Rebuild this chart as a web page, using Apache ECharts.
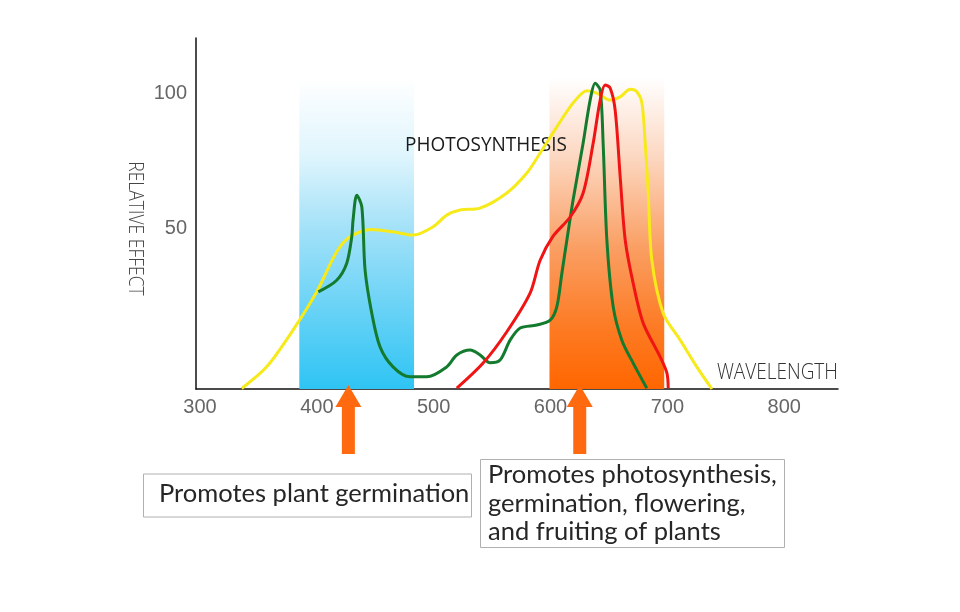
<!DOCTYPE html>
<html>
<head>
<meta charset="utf-8">
<script src="https://cdn.jsdelivr.net/npm/echarts@6/dist/echarts.min.js"></script>
<style>html,body{margin:0;padding:0;background:#fff}#c{width:960px;height:612px}</style>
</head>
<body>
<div id="c"></div>
<script>
// ---- data ----
const wavelengthTicks = [300, 400, 500, 600, 700, 800];
const effectTicks = [50, 100];

const yellowNm  = [335.7,357.1,379.6,399.9,417.0,428.4,447.0,465.2,482.4,499.5,511.2,522.6,539.7,562.6,579.7,591.1,605.4,619.3,631.1,639.6,651.0,659.6,668.2,673.9,678.2,681.0,683.6,686.7,696.4,711.0,725.3,738.1];
const yellowVal = [-9.4,-1.4,12.2,26.4,41.2,46.8,49.5,48.6,47.4,50.5,54.8,56.7,57.4,63.0,70.4,77.8,87.5,96.3,100.9,100.0,97.4,98.6,101.4,100.5,96.3,81.5,63.0,38.1,18.5,8.5,-1.5,-9.6];

const greenNm  = [401.3,417.0,425.6,429.9,431.0,434.2,438.5,441.3,447.0,454.1,465.2,479.8,494.1,511.2,519.8,531.2,539.7,548.3,556.8,565.4,574.0,588.3,599.7,605.4,609.7,614.0,619.3,627.9,633.9,638.2,642.5,645.0,648.2,653.6,661.0,670.7,682.4];
const greenVal = [26.4,30.7,37.0,46.8,53.0,62.2,57.9,34.4,18.5,6.0,-1.4,-5.1,-5.1,-1.4,3.0,4.8,3.0,0.1,1.1,8.5,13.0,14.1,15.9,20.9,33.3,45.6,60.4,81.5,97.4,103.6,101.1,81.5,45.6,20.9,8.5,0,-9.3];

const redNm  = [519.8,542.3,562.6,582.5,591.1,602.2,616.8,627.9,636.5,642.5,646.7,651.0,655.3,659.6,663.9,670.7,679.3,693.8,699.6,700.7];
const redVal = [-9.3,0,11.6,25.9,38.1,47.0,54.1,63.0,81.5,97.4,103.0,101.9,93.7,69.0,45.6,29.6,14.8,2.3,-3.7,-9.3];

const blueBandNm = [385.0, 483.2];
const orangeBandNm = [599.1, 697.3];
const bandTop = 105.6;
const arrowNm = [427, 625];

const xMin = 296.6, xMax = 846, yMin = -9.6, yMax = 120.4;

const pairs = (a, b) => a.map((v, i) => [v, b[i]]);

const chart = echarts.init(document.getElementById('c'));
const G = echarts.graphic.LinearGradient;
const axisFont = { color: '#666', fontSize: 20, fontFamily: '"Liberation Sans", sans-serif' };

chart.setOption({
  animation: false,
  grid: { left: 196, right: 122, top: 38, bottom: 223 },
  xAxis: {
    type: 'value', min: xMin, max: xMax,
    axisLine: { show: true, onZero: false, lineStyle: { color: '#111', width: 1.5 } },
    axisTick: { show: false }, splitLine: { show: false },
    axisLabel: Object.assign({ customValues: wavelengthTicks, margin: 8 }, axisFont)
  },
  yAxis: {
    type: 'value', min: yMin, max: yMax,
    axisLine: { show: true, onZero: false, lineStyle: { color: '#111', width: 1.5 } },
    axisTick: { show: false }, splitLine: { show: false },
    axisLabel: Object.assign({ customValues: effectTicks, margin: 9 }, axisFont)
  },
  series: [
    {
      type: 'line', data: [], z: 1, silent: true,
      markArea: {
        silent: true,
        label: { show: false },
        data: [
          [{ xAxis: blueBandNm[0], yAxis: yMin, itemStyle: { color: new G(0, 0, 0, 1, [
              { offset: 0, color: 'rgba(255,255,255,1)' },
              { offset: 0.25, color: '#dff5fd' },
              { offset: 0.5, color: '#9fe0f8' },
              { offset: 1, color: '#2fc4f4' }]) } },
           { xAxis: blueBandNm[1], yAxis: bandTop }],
          [{ xAxis: orangeBandNm[0], yAxis: yMin, itemStyle: { color: new G(0, 0, 0, 1, [
              { offset: 0, color: 'rgba(255,255,255,1)' },
              { offset: 0.25, color: '#fcd8c2' },
              { offset: 0.55, color: '#fa9e62' },
              { offset: 0.8, color: '#fd7b24' },
              { offset: 1, color: '#ff6600' }]) } },
           { xAxis: orangeBandNm[1], yAxis: bandTop }]
        ]
      }
    },
    {
      type: 'line', z: 3, data: pairs(yellowNm, yellowVal), showSymbol: false, smooth: 0.3,
      lineStyle: { color: '#f7ea1a', width: 3 }
    },
    {
      type: 'line', z: 4, data: pairs(greenNm, greenVal), showSymbol: false, smooth: 0.3,
      lineStyle: { color: '#137a2e', width: 3 }
    },
    {
      type: 'line', z: 5, data: pairs(redNm, redVal), showSymbol: false, smooth: 0.3,
      lineStyle: { color: '#f01414', width: 3 }
    },
    {
      type: 'custom', z: 6, clip: false, silent: true,
      data: arrowNm.map(n => [n, yMin]),
      renderItem: function (params, api) {
        const p = api.coord([api.value(0), api.value(1)]);
        const x = p[0], tip = p[1] - 4;
        const hw = 13, sw = 6.5, hh = 22, len = 69;
        return {
          type: 'polygon',
          shape: { points: [
            [x, tip], [x + hw, tip + hh], [x + sw, tip + hh], [x + sw, tip + len],
            [x - sw, tip + len], [x - sw, tip + hh], [x - hw, tip + hh]
          ] },
          style: { fill: '#ff6a10' }
        };
      }
    }
  ],
  graphic: [
    { type: 'text', z: 2, x: 405, y: 145, scaleY: 1.07,
      style: { text: 'PHOTOSYNTHESIS', fill: '#1a1a1a', font: '19px "Open Sans", sans-serif', verticalAlign: 'middle' } },
    { type: 'text', z: 2, x: 838, y: 384, scaleY: 1.15,
      style: { text: 'WAVELENGTH', fill: '#333', font: '300 19px "Open Sans", sans-serif', align: 'right', verticalAlign: 'bottom' } },
    { type: 'text', z: 2, x: 134.7, y: 228.5, rotation: -Math.PI / 2, scaleY: 1.12,
      style: { text: 'RELATIVE EFFECT', fill: '#444', font: '300 17.5px "Open Sans", sans-serif', align: 'center', verticalAlign: 'middle' } },
    { type: 'rect', z: 2, shape: { x: 143.5, y: 474, width: 328, height: 43 }, style: { fill: '#fff', stroke: '#b0b0b0', lineWidth: 1 } },
    { type: 'text', z: 3, x: 159, y: 494, style: { text: 'Promotes plant germination', fill: '#262626', font: '25.5px Lato, sans-serif', verticalAlign: 'middle' } },
    { type: 'rect', z: 2, shape: { x: 480.5, y: 459.5, width: 304, height: 88 }, style: { fill: '#fff', stroke: '#b0b0b0', lineWidth: 1 } },
    { type: 'text', z: 3, x: 488, y: 461, style: { text: 'Promotes photosynthesis,\ngermination, flowering,\nand fruiting of plants', fill: '#262626', font: '25.5px Lato, sans-serif', lineHeight: 28.5 } }
  ]
});
</script>
</body>
</html>
